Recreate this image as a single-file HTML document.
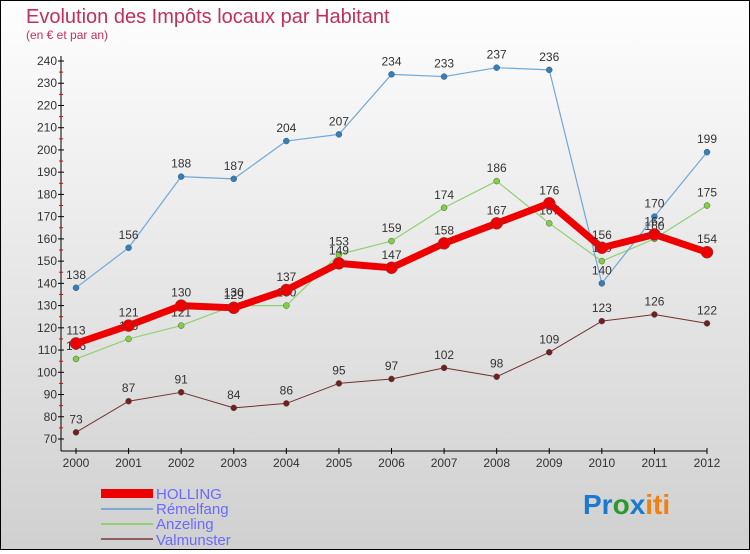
<!DOCTYPE html>
<html><head><meta charset="utf-8"><style>
body{margin:0;width:750px;height:550px;overflow:hidden;font-family:"Liberation Sans",sans-serif}
#wrap{position:absolute;left:0;top:0;width:748px;height:548px;border:1px solid #000;background:linear-gradient(#fefefe,#d0d0d0)}
</style></head><body>
<div id="wrap">
<svg id="svg" width="748" height="548" xmlns="http://www.w3.org/2000/svg">
<text x="25" y="22" font-size="20" fill="#c0305a">Evolution des Impôts locaux par Habitant</text>
<text x="25" y="38" font-size="12" fill="#c0305a">(en € et par an)</text>
<g id="axes"></g><g id="series"></g>
<g>
<rect x="100" y="488" width="52" height="9" fill="#e00"/>
<text x="155" y="498" font-size="15" fill="#6a6aff">HOLLING</text>
<rect x="100" y="507" width="52" height="2" fill="#7aaad0"/>
<text x="155" y="513" font-size="15" fill="#6a6aff">Rémelfang</text>
<rect x="100" y="522" width="52" height="2" fill="#90d070"/>
<text x="155" y="528" font-size="15" fill="#6a6aff">Anzeling</text>
<rect x="100" y="537" width="52" height="2" fill="#906060"/>
<text x="155" y="544" font-size="15" fill="#6a6aff">Valmunster</text>
</g>
<text x="582" y="513" font-size="28" font-weight="bold"><tspan fill="#1a7ad0">Pr</tspan><tspan fill="#2a9a30">o</tspan><tspan fill="#1a7ad0">x</tspan><tspan fill="#f08010">iti</tspan></text>
</svg></div>
<script>
const years=[2000,2001,2002,2003,2004,2005,2006,2007,2008,2009,2010,2011,2012];
const yTicks=[70,80,90,100,110,120,130,140,150,160,170,180,190,200,210,220,230,240];
const holling=[113,121,130,129,137,149,147,158,167,176,156,162,154];
const remelfang=[138,156,188,187,204,207,234,233,237,236,140,170,199];
const anzeling=[106,115,121,130,130,153,159,174,186,167,150,160,175];
const valmunster=[73,87,91,84,86,95,97,102,98,109,123,126,122];
const NS="http://www.w3.org/2000/svg";
const X=i=>75+i*(706-75)/12;
const Y=v=>438-(v-70)*(438-60)/170;
function mk(t,a,p){const e=document.createElementNS(NS,t);for(const k in a)e.setAttribute(k,a[k]);p.appendChild(e);return e;}
const ax=document.getElementById('axes'),sg=document.getElementById('series');
let l=mk('line',{x1:60,y1:55,x2:60,y2:450,stroke:'#000'},ax);

l=mk('line',{x1:60,y1:450,x2:706,y2:450,stroke:'#000'},ax);

yTicks.forEach(v=>{const y=Y(v);
 mk('line',{x1:57,y1:y,x2:63,y2:y,stroke:'#000'},ax);
 if(v<240)mk('line',{x1:58,y1:Y(v+5),x2:62,y2:Y(v+5),stroke:'#e00'},ax);
 const t=mk('text',{x:56,y:y+4,'font-size':12,'text-anchor':'end',fill:'#333'},ax);t.textContent=v;
 });
years.forEach((yr,i)=>{const x=X(i);
 mk('line',{x1:x,y1:447,x2:x,y2:453,stroke:'#000'},ax);
 const t=mk('text',{x:x,y:466,'font-size':12,'text-anchor':'middle',fill:'#333'},ax);t.textContent=yr;
 });
function draw(d,name,col,w,r,dot){
 const p=mk('polyline',{points:d.map((v,i)=>X(i)+','+Y(v)).join(' '),fill:'none',stroke:col,'stroke-width':w,'stroke-linejoin':'round'},sg);
 
 d.forEach((v,i)=>{const c=mk('circle',{cx:X(i),cy:Y(v),r:r,fill:dot,stroke:'#555','stroke-width':0.5},sg);
  
  const t=mk('text',{x:X(i),y:Y(v)-9,'font-size':12,'text-anchor':'middle',fill:'#333'},sg);t.textContent=v;
  });
}
draw(valmunster,'valmunster','#703030',1,3,'#702020');
draw(anzeling,'anzeling','#90d070',1.2,3,'#80d040');
draw(remelfang,'remelfang','#70a8d8',1.2,3,'#3080c0');
draw(holling,'holling','#ee0000',7,6,'#ee0000');
</script>
</body></html>
